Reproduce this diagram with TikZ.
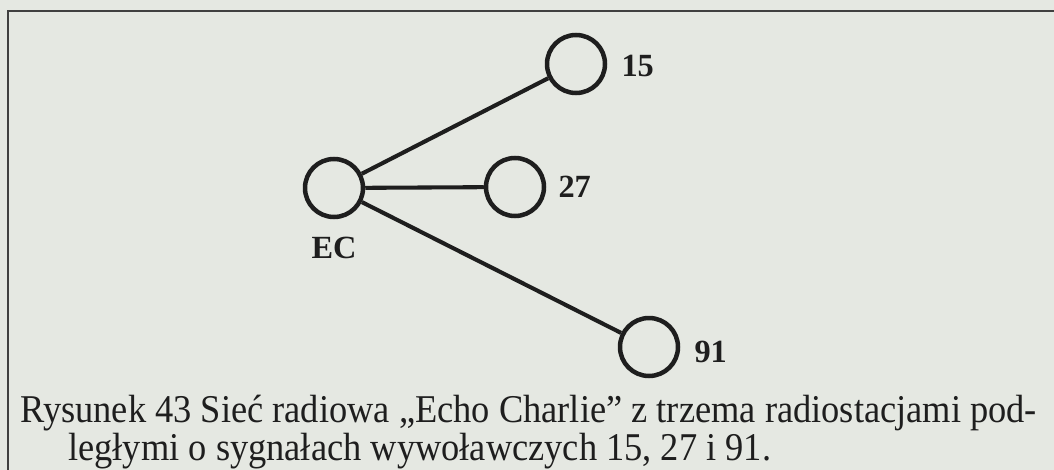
\documentclass[tikz,border=0pt]{standalone}
\usepackage{fontspec}
\setmainfont{Liberation Serif}
\usetikzlibrary{positioning}
\definecolor{paper}{RGB}{229,232,226}
\definecolor{ink}{RGB}{30,30,30}

\begin{document}
\begin{tikzpicture}[
  station/.style={draw=ink, circle, line width=3.2pt, minimum size=1.45cm, inner sep=0pt},
  callsign/.style={text=ink, font=\fontsize{23}{26}\selectfont\bfseries, inner sep=0pt},
  link/.style={draw=ink, line width=2.9pt},
  captext/.style={text=ink, font=\fontsize{28}{25}\selectfont, inner sep=0pt,
                  align=left, anchor=base west, xscale=0.925, transform shape},
  ]
  \fill[paper] (0,0) rectangle (26.35,-11.75);
  \useasboundingbox (0,0) rectangle (26.35,-11.75);
  % frame (only top and left edge are in view)
  \draw[ink!85, line width=1.2pt] (0.2,-11.75) |- (26.35,-0.28);

  \node[station] (ec) at (8.35,-4.70) {};
  \node[station] (s15) at (14.40,-1.60) {};
  \node[station] (s27) at (12.875,-4.675) {};
  \node[station] (s91) at (16.225,-8.675) {};

  \node[callsign, below=0.45cm of ec] (lec) {EC};
  \node[callsign, right=0.35cm of s15, yshift=-0.05cm] (l15) {15};
  \node[callsign, right=0.3cm of s27] (l27) {27};
  \node[callsign, right=0.35cm of s91, yshift=-0.12cm] (l91) {91};

  \draw[link] (ec) -- (s15);
  \draw[link] (ec) -- (s27);
  \draw[link] (ec) -- (s91);

  % base west sits on the last line
  \node[captext] (cap) at (0.5,-11.5)
        {Rysunek 43 Sieć radiowa „Echo Charlie” z trzema radiostacjami pod-\\
         \hspace*{1.3cm}ległymi o sygnałach wywoławczych 15, 27 i 91.};
\end{tikzpicture}
\end{document}
